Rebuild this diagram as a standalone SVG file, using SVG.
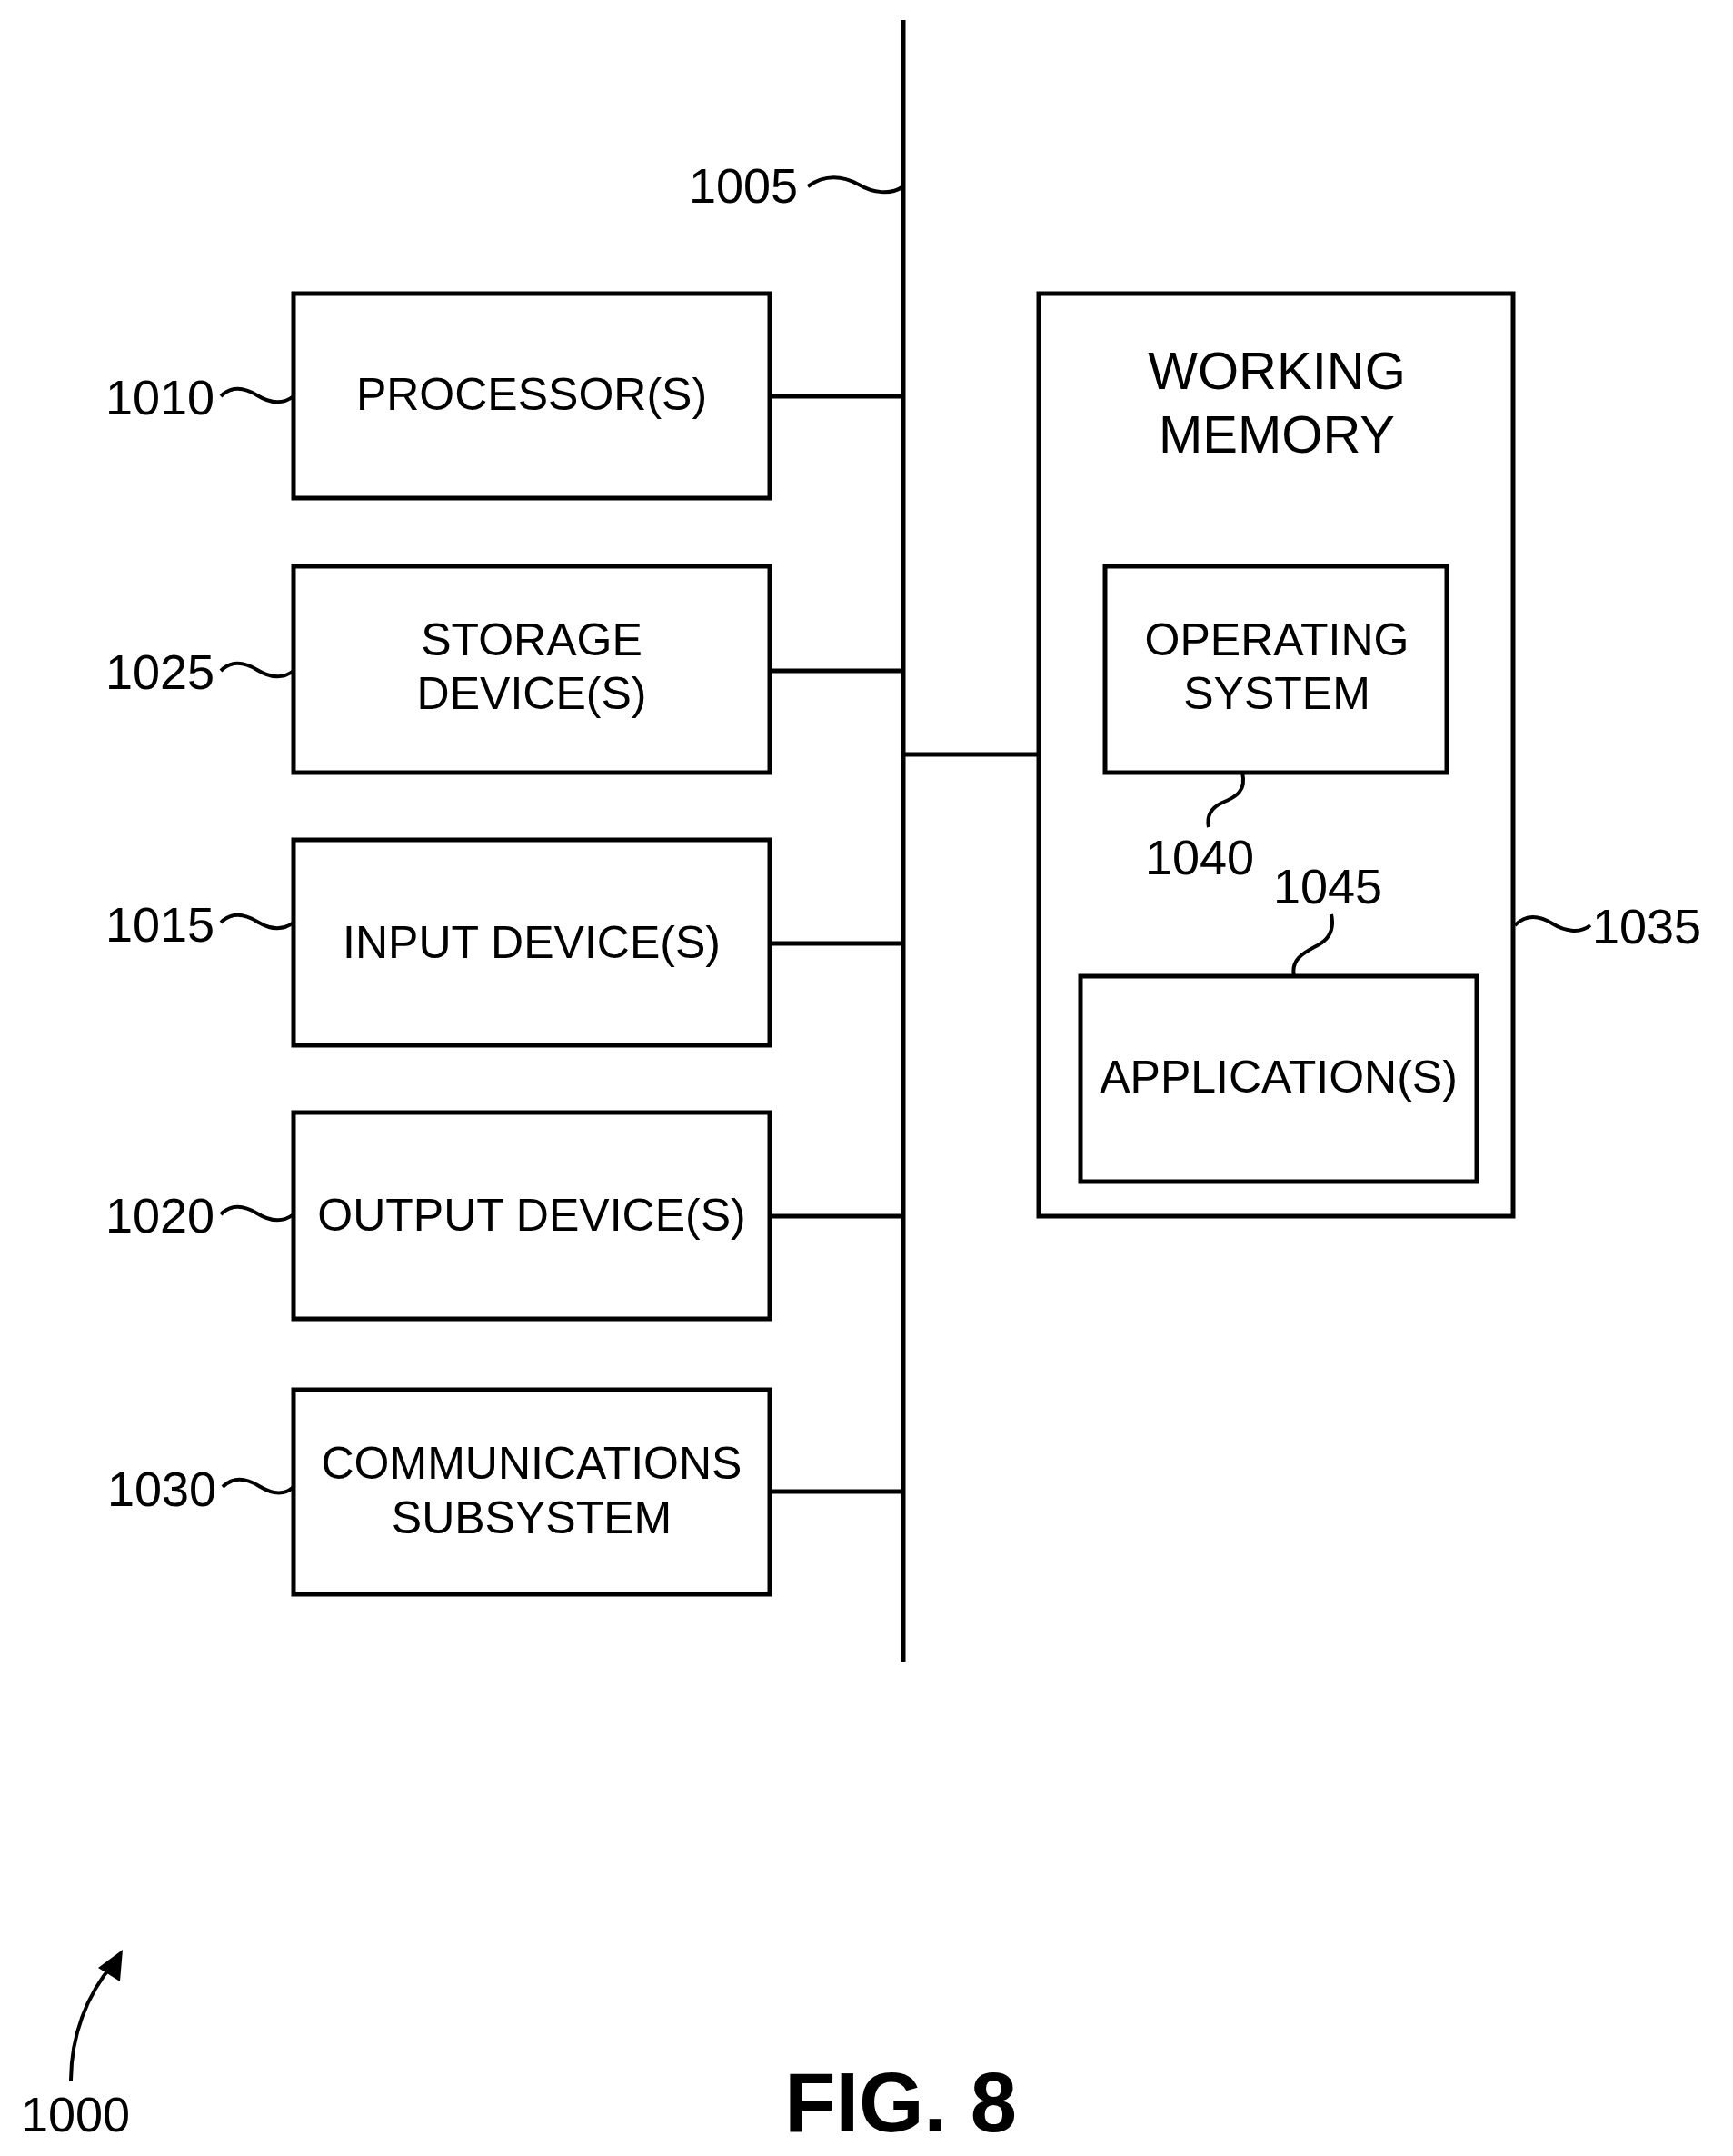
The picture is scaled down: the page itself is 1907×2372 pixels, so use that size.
<svg xmlns="http://www.w3.org/2000/svg" width="1907" height="2372" viewBox="0 0 1907 2372">
<style>
.b{fill:#fff;stroke:#000;stroke-width:5}
.l{fill:none;stroke:#000;stroke-width:5}
.s{fill:none;stroke:#000;stroke-width:4}
text{font-family:"Liberation Sans",Arial,sans-serif;font-size:50px;fill:#000}
.n{font-size:54px}
.w{font-size:58px}
.f{font-size:92px;font-weight:bold}
.c{text-anchor:middle}
</style>
<rect width="1907" height="2372" fill="#fff"/>
<g id="connectors">
<line class="l" x1="994" y1="22" x2="994" y2="1828"/>
<line class="l" x1="847" y1="436" x2="994" y2="436"/>
<line class="l" x1="847" y1="738" x2="994" y2="738"/>
<line class="l" x1="847" y1="1038" x2="994" y2="1038"/>
<line class="l" x1="847" y1="1338" x2="994" y2="1338"/>
<line class="l" x1="847" y1="1641" x2="994" y2="1641"/>
<line class="l" x1="994" y1="830" x2="1143" y2="830"/>
</g>
<g id="n1005"><text class="n" x="758" y="223">1005</text><path class="s" d="M889 205 C910 190 930 195 945 203 C960 212 980 215 994 205"/></g>
<g id="n1010"><rect class="b" x="323" y="323" width="524" height="225"/><text class="c" x="585" y="451">PROCESSOR(S)</text><text class="n" x="116" y="456">1010</text><path class="s" d="M243 436 C255 424 270 427 283 435 C296 443 310 446 323 436"/></g>
<g id="n1025"><rect class="b" x="323" y="623" width="524" height="227"/><text class="c" x="585" y="721">STORAGE</text><text class="c" x="585" y="780">DEVICE(S)</text><text class="n" x="116" y="758">1025</text><path class="s" d="M243 738 C255 726 270 729 283 737 C296 745 310 748 323 738"/></g>
<g id="n1015"><rect class="b" x="323" y="924" width="524" height="226"/><text class="c" x="585" y="1054">INPUT DEVICE(S)</text><text class="n" x="116" y="1036">1015</text><path class="s" d="M243 1015 C255 1003 270 1006 283 1014 C296 1022 310 1025 323 1015"/></g>
<g id="n1020"><rect class="b" x="323" y="1224" width="524" height="227"/><text class="c" x="585" y="1354">OUTPUT DEVICE(S)</text><text class="n" x="116" y="1356">1020</text><path class="s" d="M243 1336 C255 1324 270 1327 283 1335 C296 1343 310 1346 323 1336"/></g>
<g id="n1030"><rect class="b" x="323" y="1529" width="524" height="225"/><text class="c" x="585" y="1627">COMMUNICATIONS</text><text class="c" x="585" y="1687">SUBSYSTEM</text><text class="n" x="118" y="1657">1030</text><path class="s" d="M245 1636 C257 1624 272 1627 285 1635 C298 1643 312 1646 323 1636"/></g>
<g id="n1035"><rect class="b" x="1143" y="323" width="522" height="1015"/><text class="c w" x="1405" y="428">WORKING</text><text class="c w" x="1405" y="498">MEMORY</text><text class="n" x="1752" y="1038">1035</text><path class="s" d="M1667 1018 C1680 1005 1695 1008 1708 1016 C1721 1024 1738 1028 1750 1018"/></g>
<g id="n1040"><rect class="b" x="1216" y="623" width="376" height="227"/><text class="c" x="1405" y="721">OPERATING</text><text class="c" x="1405" y="780">SYSTEM</text><text class="n" x="1260" y="962">1040</text><path class="s" d="M1367 850 C1372 870 1360 877 1345 883 C1330 890 1328 900 1330 910"/></g>
<g id="n1045"><rect class="b" x="1189" y="1074" width="436" height="226"/><text class="c" x="1407" y="1202">APPLICATION(S)</text><text class="n" x="1401" y="994">1045</text><path class="s" d="M1424 1074 C1420 1055 1435 1048 1450 1040 C1465 1032 1468 1020 1465 1006"/></g>
<g id="n1000"><text class="n" x="23" y="2345">1000</text><path class="s" d="M78 2290 C78 2240 95 2195 125 2160"/><polygon points="135,2145 132,2180 108,2165"/></g>
<text class="c f" x="991" y="2345">FIG. 8</text>
</svg>
